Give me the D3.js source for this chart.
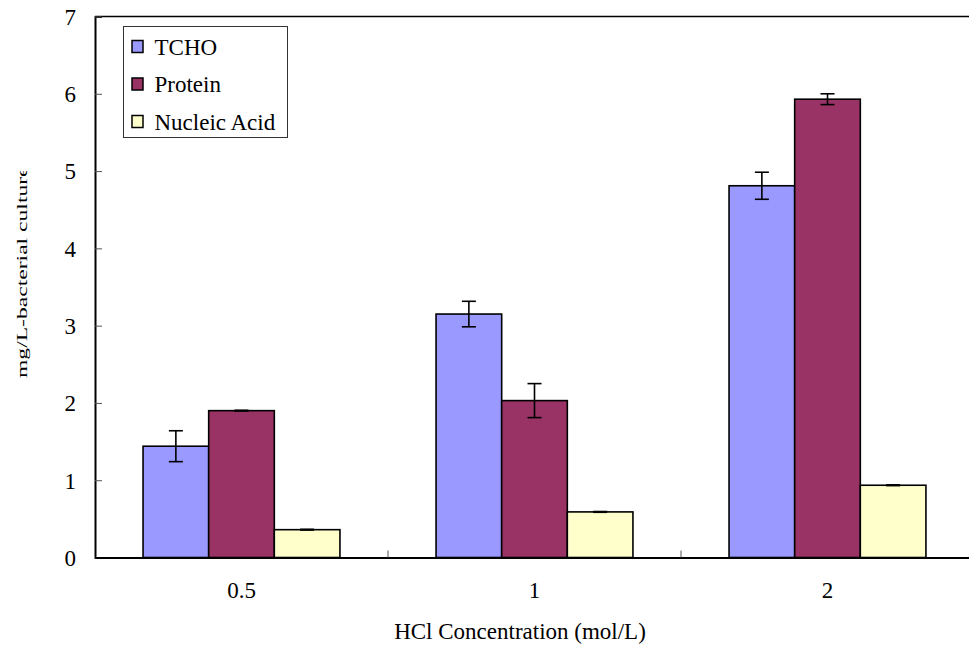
<!DOCTYPE html>
<html>
<head>
<meta charset="utf-8">
<script src="https://cdn.jsdelivr.net/npm/d3@7"></script>
<style>
  html, body { margin: 0; padding: 0; background: #fff; }
  svg { display: block; }
  svg text { font-family: "Liberation Serif", "Times New Roman", Times, "DejaVu Serif", serif !important; fill: #000; }
</style>
</head>
<body>
<svg id="chart" width="969" height="649"></svg>
<script>
// HCl extraction yields per litre of bacterial culture
const concentrations = ["0.5", "1", "2"];
const seriesNames = ["TCHO", "Protein", "Nucleic Acid"];
const seriesColors = ["#9999FF", "#993366", "#FFFFCC"];
const tchoValues = [1.44, 3.15, 4.81];
const tchoErrors = [0.20, 0.165, 0.175];
const proteinValues = [1.90, 2.03, 5.93];
const proteinErrors = [0.005, 0.22, 0.07];
const nucleicValues = [0.36, 0.59, 0.935];
const nucleicErrors = [0.005, 0.005, 0.005];
const yTicks = [0, 1, 2, 3, 4, 5, 6, 7];

const seriesValues = [tchoValues, proteinValues, nucleicValues];
const seriesErrors = [tchoErrors, proteinErrors, nucleicErrors];

const svg = d3.select("#chart");
const plotLeft = 95, plotRight = 974, plotTop = 16.5, plotBottom = 557.5;

const x = d3.scaleBand()
  .domain(concentrations)
  .range([plotLeft, plotRight])
  .paddingInner(0.328)
  .paddingOuter(0.164);
const xs = d3.scaleBand().domain(seriesNames).range([0, x.bandwidth()]).padding(0);
const y = d3.scaleLinear().domain([0, 7]).range([plotBottom, plotTop]);

// bars
const rows = [];
concentrations.forEach((c, i) => {
  seriesNames.forEach((s, j) => {
    rows.push({ c, s, j, v: seriesValues[j][i], e: seriesErrors[j][i] });
  });
});

const g = svg.append("g");
g.selectAll("rect.bar").data(rows).join("rect")
  .attr("class", "bar")
  .attr("x", d => x(d.c) + xs(d.s))
  .attr("y", d => y(d.v))
  .attr("width", xs.bandwidth())
  .attr("height", d => y(0) - y(d.v))
  .attr("fill", d => seriesColors[d.j])
  .attr("stroke", "#000")
  .attr("stroke-width", 1.6);

// error bars
const capHalf = 7;
const eb = g.selectAll("g.err").data(rows).join("g").attr("class", "err")
  .attr("transform", d => `translate(${x(d.c) + xs(d.s) + xs.bandwidth() / 2},0)`);
eb.append("line")
  .attr("y1", d => y(d.v + d.e)).attr("y2", d => y(d.v - d.e))
  .attr("stroke", "#000").attr("stroke-width", 1.6);
eb.append("line")
  .attr("x1", -capHalf).attr("x2", capHalf)
  .attr("y1", d => y(d.v + d.e)).attr("y2", d => y(d.v + d.e))
  .attr("stroke", "#000").attr("stroke-width", 1.6);
eb.append("line")
  .attr("x1", -capHalf).attr("x2", capHalf)
  .attr("y1", d => y(d.v - d.e)).attr("y2", d => y(d.v - d.e))
  .attr("stroke", "#000").attr("stroke-width", 1.6);

// top frame line
svg.append("line")
  .attr("x1", plotLeft).attr("x2", plotRight)
  .attr("y1", plotTop).attr("y2", plotTop)
  .attr("stroke", "#000").attr("stroke-width", 1.6);

// y axis with inward ticks
const yAxis = svg.append("g")
  .attr("transform", `translate(${plotLeft},0)`)
  .call(d3.axisLeft(y).tickValues(yTicks).tickSize(-7).tickPadding(19).tickFormat(d3.format("d")));
yAxis.attr("font-family", null);
yAxis.select(".domain").attr("stroke", "#000").attr("stroke-width", 2);
yAxis.selectAll(".tick line").attr("stroke", "#555").attr("stroke-width", 1);
yAxis.selectAll(".tick text")
  .attr("font-size", 23)
  .attr("dy", "0.34em");

// x axis: labels centred on groups, ticks between groups
const xAxis = svg.append("g")
  .attr("transform", `translate(0,${plotBottom})`)
  .call(d3.axisBottom(x).tickSize(0).tickPadding(24));
xAxis.attr("font-family", null);
xAxis.select(".domain").attr("stroke", "#000").attr("stroke-width", 2);
xAxis.selectAll(".tick text")
  .attr("font-size", 23);

const boundaries = concentrations.map(c => x(c) + x.bandwidth() + x.step() * x.paddingInner() / 2);
xAxis.selectAll("line.sep").data(boundaries).join("line")
  .attr("class", "sep")
  .attr("x1", d => d).attr("x2", d => d)
  .attr("y1", 0).attr("y2", -7)
  .attr("stroke", "#555").attr("stroke-width", 1);

// axis titles
svg.append("text")
  .attr("x", 520).attr("y", 639)
  .attr("text-anchor", "middle")
  .attr("font-size", 23)
  .text("HCl Concentration (mol/L)");

svg.append("clipPath").attr("id", "ylabClip")
  .append("rect").attr("x", 0).attr("y", 171).attr("width", 60).attr("height", 260);
svg.append("g").attr("clip-path", "url(#ylabClip)")
  .append("text")
  .attr("transform", "translate(27,378) rotate(-90) scale(1,0.6)")
  .attr("text-anchor", "start")
  .attr("font-size", 23.6)
  .text("mg/L-bacterial culture");

// legend
const lg = svg.append("g").attr("transform", "translate(123.5,26.5)");
lg.append("rect")
  .attr("width", 164).attr("height", 111)
  .attr("fill", "#fff").attr("stroke", "#333").attr("stroke-width", 1);
const items = lg.selectAll("g.item").data(seriesNames).join("g")
  .attr("class", "item")
  .attr("transform", (d, i) => `translate(0,${20 + i * 37.5})`);
items.append("rect")
  .attr("x", 8.5).attr("y", -6).attr("width", 11).attr("height", 12)
  .attr("fill", (d, i) => seriesColors[i])
  .attr("stroke", "#000").attr("stroke-width", 1.5);
items.append("text")
  .attr("x", 31).attr("y", 0).attr("dy", "0.35em")
  .attr("font-size", 23)
  .text(d => d);
</script>
</body>
</html>
